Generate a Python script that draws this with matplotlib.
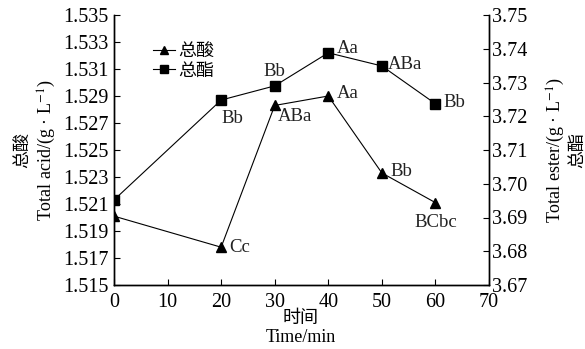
import matplotlib
matplotlib.use("Agg")
import matplotlib.pyplot as plt
from matplotlib.ticker import FormatStrFormatter

plt.rcParams['font.family'] = ['Liberation Serif', 'Noto Sans CJK SC']
plt.rcParams['mathtext.fontset'] = 'stix'

# 时间 (min)
time_min = [0, 20, 30, 40, 50, 60]
# 总酸 g/L
total_acid = [1.5201, 1.5178, 1.5283, 1.5290, 1.5233, 1.5211]
acid_marks = ['', 'Cc', 'ABa', 'Aa', 'Bb', 'BCbc']
# 总酯 g/L
total_ester = [3.6952, 3.7248, 3.7290, 3.7388, 3.7349, 3.7237]
ester_marks = ['', 'Bb', 'Bb', 'Aa', 'ABa', 'Bb']

x_ticks = [0, 10, 20, 30, 40, 50, 60, 70]
acid_ticks = [1.515, 1.517, 1.519, 1.521, 1.523, 1.525, 1.527, 1.529,
              1.531, 1.533, 1.535]
ester_ticks = [3.67, 3.68, 3.69, 3.70, 3.71, 3.72, 3.73, 3.74, 3.75]

W, H = 585, 349
fig = plt.figure(figsize=(W / 100, H / 100), dpi=100)
ax = fig.add_axes([114 / W, 64 / H, 375 / W, 270 / H])
ax2 = ax.twinx()

l1, = ax.plot(time_min, total_acid, color='black', lw=0.8, marker='^',
              markersize=6.5, label='总酸', zorder=3)
l2, = ax2.plot(time_min, total_ester, color='black', lw=0.8, marker='s',
               markersize=6.5, label='总酯', zorder=3)

# 显著性字母标注
acid_off = [(0, 0), (6, 0), (2, -8), (6, 1.5), (6, 1), (0, -14)]
acid_ha = ['left', 'left', 'left', 'left', 'left', 'center']
for x, y, t, off, ha in zip(time_min, total_acid, acid_marks, acid_off, acid_ha):
    if t:
        ax.annotate(t, (x, y), xytext=off, textcoords='offset points',
                    ha=ha, va='center', fontsize=13.5, color='#222222')

ester_off = [(0, 0), (0, -13), (0, 10), (6, 3), (4, 1), (6, 1)]
ester_ha = ['left', 'left', 'center', 'left', 'left', 'left']
for x, y, t, off, ha in zip(time_min, total_ester, ester_marks, ester_off, ester_ha):
    if t:
        ax2.annotate(t, (x, y), xytext=off, textcoords='offset points',
                     ha=ha, va='center', fontsize=13.5, color='#222222')

ax.set_xlim(0, 70)
ax.set_ylim(1.515, 1.535)
ax2.set_ylim(3.67, 3.75)
ax.set_xticks(x_ticks)
ax.set_yticks(acid_ticks)
ax2.set_yticks(ester_ticks)
ax.yaxis.set_major_formatter(FormatStrFormatter('%.3f'))
ax2.yaxis.set_major_formatter(FormatStrFormatter('%.2f'))

for a in (ax, ax2):
    a.spines['top'].set_visible(False)
    for s in a.spines.values():
        s.set_linewidth(1.0)
ax.tick_params(axis='y', direction='in', length=4, width=0.8,
               labelsize=14.5, pad=4)
ax.tick_params(axis='x', direction='in', length=4, width=0.8,
               labelsize=14.5, pad=6)
ax2.tick_params(axis='y', direction='in', length=4, width=0.8,
                labelsize=14.5, pad=2)

fig.text(36 / W, 1 - 150 / H, '总酸\nTotal acid/(g · L$^{-1}$)', rotation=90,
         ha='center', va='center', fontsize=13, linespacing=1.3,
         multialignment='center')
fig.text(565 / W, 1 - 150 / H, 'Total ester/(g · L$^{-1}$)\n总酯', rotation=90,
         ha='center', va='center', fontsize=13, linespacing=1.15,
         multialignment='center')
fig.text(301 / W, 1 - 328 / H, '时间\nTime/min', ha='center', va='center',
         fontsize=13, linespacing=1.1)

ax.legend(handles=[l1, l2], loc='upper left', bbox_to_anchor=(0.08, 0.93),
          frameon=False, fontsize=13, handlelength=1.2, handletextpad=0.2,
          labelspacing=0.15, borderpad=0, markerscale=0.85)

fig.savefig('out.png', dpi=100)
